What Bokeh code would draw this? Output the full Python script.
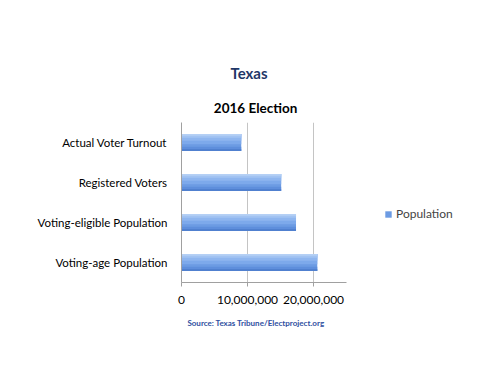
from bokeh.plotting import figure
from bokeh.models import Title, Legend, LegendItem, FixedTicker, NumeralTickFormatter, ColumnDataSource, Range1d
from bokeh.transform import dodge
from bokeh.embed import file_html
from bokeh.resources import INLINE

categories = ["Voting-age Population", "Voting-eligible Population", "Registered Voters", "Actual Voter Turnout"]
population = [20570000, 17350000, 15100000, 9050000]
x_ticks = [0, 10000000, 20000000]
series_name = "Population"

FONT = "Lato"
H = 0.42
BAR = "#6C9BE3"

src = ColumnDataSource(dict(cat=categories, val=population))

p = figure(width=500, height=375, frame_width=165, frame_height=160,
           y_range=categories, x_range=Range1d(0, 25000000),
           output_backend="svg", toolbar_location=None,
           min_border_left=181, min_border_right=0, min_border_top=122, min_border_bottom=93)
p.outline_line_color = None
p.background_fill_color = "white"
p.border_fill_color = "white"

base = p.hbar(y="cat", right="val", left=0, height=H, source=src,
              fill_color=BAR, line_color=None)
# gradient bands (top lighter, bottom darker)
bands = [
    (0.60, "#7DA9EB"),
    (0.40, "#8FB6EF"),
    (0.22, "#A2C3F2"),
    (0.10, "#B5D0F5"),
]
for frac, col in bands:
    off = H / 2 - frac * H / 2
    p.hbar(y=dodge("cat", off, range=p.y_range), right="val", left=0, height=frac * H,
           source=src, fill_color=col, line_color=None)
for frac, col in [(0.25, "#5E8EDC"), (0.12, "#5080CF")]:
    off = -(H / 2 - frac * H / 2)
    p.hbar(y=dodge("cat", off, range=p.y_range), right="val", left=0, height=frac * H,
           source=src, fill_color=col, line_color=None)

p.xaxis.ticker = FixedTicker(ticks=x_ticks)
p.xaxis.formatter = NumeralTickFormatter(format="0,0")
p.xaxis.major_label_text_font = FONT
p.xaxis.major_label_text_font_size = "12px"
p.xaxis.major_label_text_color = "black"
p.xaxis.axis_line_color = "#A0A0A0"
p.xaxis.major_tick_line_color = "#A0A0A0"
p.xaxis.major_tick_in = 0
p.xaxis.major_tick_out = 4
p.xaxis.major_label_standoff = 9
p.xaxis.minor_tick_line_color = None

p.yaxis.major_label_text_font = FONT
p.yaxis.major_label_text_font_size = "11.5px"
p.yaxis.major_label_text_color = "black"
p.yaxis.axis_line_color = "#A0A0A0"
p.yaxis.major_tick_line_color = None
p.yaxis.major_label_standoff = 8

p.ygrid.grid_line_color = None
p.xgrid.ticker = FixedTicker(ticks=x_ticks[1:])
p.xgrid.grid_line_color = "#C4C4C4"

legend = Legend(items=[LegendItem(label=series_name, renderers=[base])],
                location=(38, 61), border_line_color=None, background_fill_alpha=0,
                label_text_font=FONT, label_text_font_size="12px",
                glyph_width=8, glyph_height=8, padding=4, label_standoff=4)
p.add_layout(legend, "right")

p.add_layout(Title(text="2016 Election\u2003\u2002", text_font=FONT, text_font_size="13.5px",
                   text_font_style="bold", text_color="black", align="center",
                   standoff=14), "above")
p.add_layout(Title(text="Texas\u2003\u2003\u2002", text_font=FONT, text_font_size="15px",
                   text_font_style="bold", text_color="#1F3768", align="center",
                   standoff=18), "above")
p.add_layout(Title(text="Source: Texas Tribune/Electproject.org\u2003\u2003\u2002", text_font=FONT,
                   text_font_size="8px", text_font_style="bold", text_color="#2F4F9F",
                   align="center", standoff=18), "below")

open("out.html", "w").write(file_html(p, INLINE))
